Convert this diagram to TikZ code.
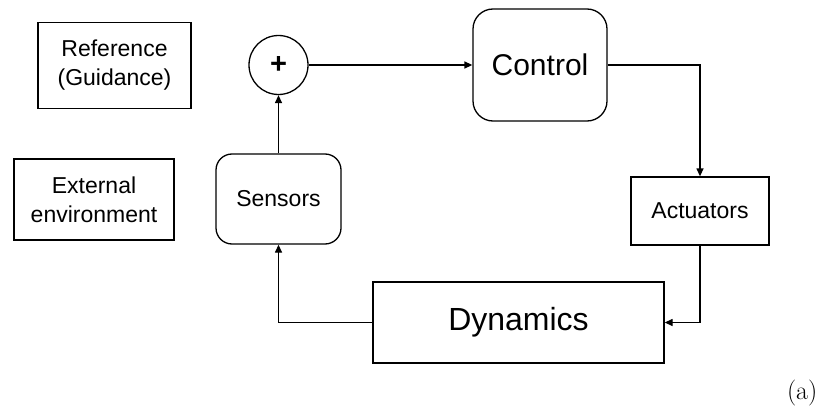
\documentclass[tikz,border=0pt]{standalone}
\usepackage{fontspec}
\setmainfont{Liberation Sans}
\usetikzlibrary{arrows.meta}
\begin{document}
\begin{tikzpicture}[x=1pt,y=-1pt,
    line width=1.3pt,
    every node/.style={inner sep=0pt, align=center},
    plainbox/.style={draw, rectangle, font=\fontsize{23}{29}\selectfont},
    roundbox/.style={draw, rectangle, rounded corners=16pt, font=\fontsize{23}{29}\selectfont},
    sumnode/.style={draw, circle, minimum size=59pt, font=\fontsize{29}{29}\selectfont\bfseries},
    flow/.style={-{Triangle[length=8pt,width=7pt]}}]
  \useasboundingbox (0,0) rectangle (821,412);

  % side boxes
  \node[plainbox, minimum width=153pt, minimum height=86pt] (ref) at (114.5,65.5) {Reference\\(Guidance)};
  \node[plainbox, minimum width=160pt, minimum height=81pt] (env) at (94,199.5) {External\\environment};

  % loop blocks
  \node[sumnode] (sum) at (278.5,65) {+};
  \node[roundbox, minimum width=125pt, minimum height=90pt] (sens) at (278.5,199) {Sensors};
  \node[roundbox, rounded corners=20pt, minimum width=134pt, minimum height=112pt,
        font=\fontsize{30}{36}\selectfont] (ctrl) at (540,65) {Control};
  \node[plainbox, minimum width=138pt, minimum height=68pt] (act) at (700,211) {Actuators};
  \node[plainbox, minimum width=291pt, minimum height=81pt,
        font=\fontsize{32}{38}\selectfont] (dyn) at (518.5,322.5) {Dynamics};

  % connectors
  \draw[flow] (sum.east) -- (ctrl.west);
  \draw[flow] (ctrl.east) -| (act.north);
  \draw[flow] (act.south) |- (dyn.east);
  \draw[flow] (dyn.west) -| (sens.south);
  \draw[flow] (sens.north) -- (sum.south);

  % sub-figure label
  \node[font=\fontfamily{lmr}\fontsize{26}{30}\selectfont, anchor=east] (lbl) at (818,393.5) {(a)};
\end{tikzpicture}
\end{document}
